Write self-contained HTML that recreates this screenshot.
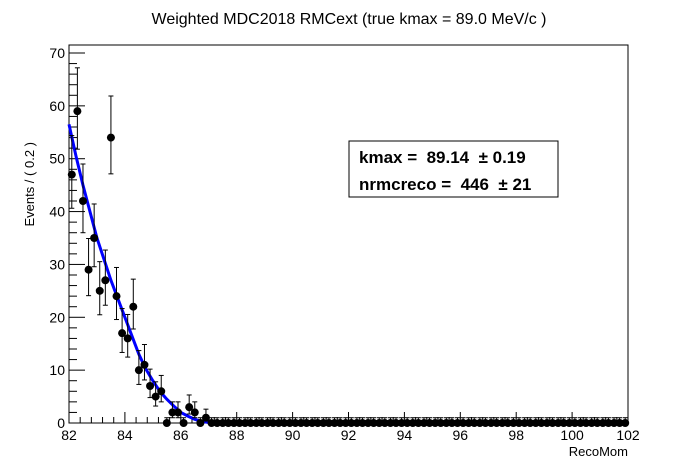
<!DOCTYPE html>
<html><head><meta charset="utf-8"><style>
body{margin:0;background:#fff;}
svg{display:block;font-family:"Liberation Sans",sans-serif;}
</style></head><body>
<svg id="chart" width="698" height="471" viewBox="0 0 698 471">
<rect width="698" height="471" fill="#fff"/>
<text x="349" y="24" font-size="16" text-anchor="middle">Weighted MDC2018 RMCext (true kmax = 89.0 MeV/c )</text>
<rect x="69" y="45" width="559" height="378" fill="none" stroke="#000" stroke-width="1"/>
<g id="axes"></g>
<g id="fit"></g>
<g id="points"></g>
<text x="628" y="456" font-size="13" text-anchor="end">RecoMom</text>
<text transform="translate(34,142) rotate(-90)" font-size="13" text-anchor="end">Events / ( 0.2 )</text>
<g>
<rect x="349" y="141" width="209" height="56" fill="#fff" stroke="#000" stroke-width="1"/>
<text x="359" y="163" font-size="17" font-weight="bold" style="white-space:pre" xml:space="preserve">kmax =  89.14  ± 0.19</text>
<text x="359" y="190" font-size="17" font-weight="bold" style="white-space:pre" xml:space="preserve">nrmcreco =  446  ± 21</text>
</g>
</svg>
<script>
const binCenters = [];
for (let i = 0; i < 100; i++) binCenters.push(+(82.1 + 0.2 * i).toFixed(1));
const counts = [47,59,42,29,35,25,27,54,24,17,16,22,10,11,7,5,6,0,2,2,0,3,2,0,1].concat(new Array(75).fill(0));
const fitX = [82,82.25,82.5,82.75,83,83.25,83.5,83.75,84,84.25,84.5,84.75,85,85.25,85.5,85.75,86,86.25,86.5,86.75,87,87.2,100];
const fitY = [56.5,50.5,45,40,35,31,27,23.5,20,16.5,13,10.2,8,6,4.5,3.2,2,1.3,0.7,0.3,0.1,0,0];
const xTicks = [82,84,86,88,90,92,94,96,98,100,102];
const yTicks = [0,10,20,30,40,50,60,70];
const X0=69,X1=628,Y0=423,Y1=53;
const sx = v => X0 + (v-82)/(102-82)*(X1-X0);
const sy = v => Y0 - v/70*(Y0-Y1);
const NS="http://www.w3.org/2000/svg";
function mk(tag, attrs, parent){const e=document.createElementNS(NS,tag);for(const k in attrs)e.setAttribute(k,attrs[k]);parent.appendChild(e);return e;}
const axes=document.getElementById('axes');
for (let v=82; v<=102.001; v+=0.4){
  const major = Math.abs(v-Math.round(v))<1e-6 && Math.round(v)%2===0;
  const t=mk('line',{x1:sx(v),x2:sx(v),y1:Y0,y2:Y0-(major?11:6),stroke:'#000'},axes);
  
  
}
xTicks.forEach(v=>{
  const t=mk('text',{x:sx(v),y:Y0+17,'font-size':14,'text-anchor':'middle'},axes);
  t.textContent=v;
  
  
});
for (let v=0; v<=70.001; v+=2){
  const major = v%10===0;
  const t=mk('line',{x1:X0,x2:X0+(major?16:8),y1:sy(v),y2:sy(v),stroke:'#000'},axes);
  
  
}
yTicks.forEach(v=>{
  const t=mk('text',{x:X0-4,y:sy(v)+5,'font-size':14,'text-anchor':'end'},axes);
  t.textContent=v;
  
  
});
const fit=document.getElementById('fit');
const p=mk('polyline',{points:fitX.map((x,i)=>sx(x)+','+sy(fitY[i])).join(' '),fill:'none',stroke:'#0000ff','stroke-width':3},fit);


const pts=document.getElementById('points');
binCenters.forEach((x,i)=>{
  const n=counts[i];
  const up=0.5+Math.sqrt(n+0.25), dn=Math.sqrt(n+0.25)-0.5;
  const g=mk('g',{},pts);
  
  
  const cx=sx(x), cy=sy(n);
  mk('line',{x1:cx,x2:cx,y1:sy(n+up),y2:sy(n-dn),stroke:'#000'},g);
  mk('line',{x1:cx-2.5,x2:cx+2.5,y1:sy(n+up),y2:sy(n+up),stroke:'#000'},g);
  if(dn>0.01) mk('line',{x1:cx-2.5,x2:cx+2.5,y1:sy(n-dn),y2:sy(n-dn),stroke:'#000'},g);
  mk('line',{x1:sx(x-0.1),x2:sx(x+0.1),y1:cy,y2:cy,stroke:'#000'},g);
  mk('circle',{cx:cx,cy:cy,r:4,fill:'#000'},g);
});
</script>
</body></html>
